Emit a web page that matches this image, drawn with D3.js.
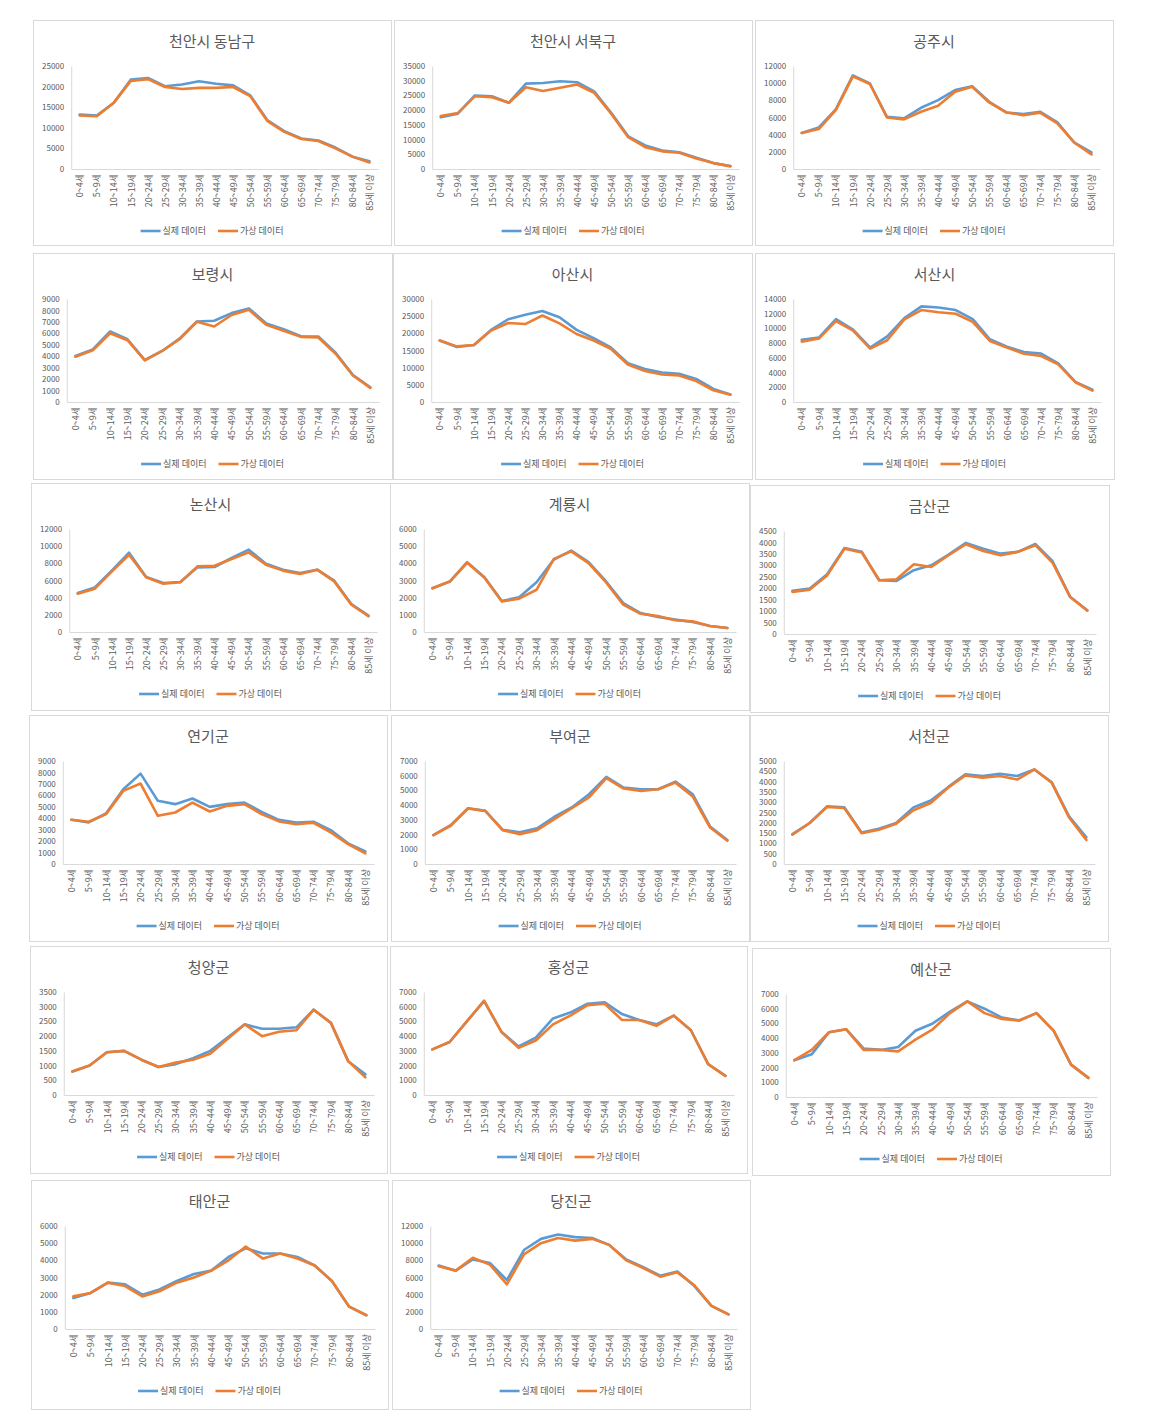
<!DOCTYPE html>
<html><head><meta charset="utf-8">
<script src="https://cdn.jsdelivr.net/npm/d3@7"></script>
<style>
body{margin:0;background:#fff;}
svg{display:block;}
text{font-family:"Noto Sans CJK KR","Noto Sans",sans-serif;}
</style>
</head><body>
<svg id="c" width="1163" height="1419"></svg>
<script>
// ---------- DATA ----------
const ageGroups = ["0~4세","5~9세","10~14세","15~19세","20~24세","25~29세","30~34세","35~39세","40~44세","45~49세","50~54세","55~59세","60~64세","65~69세","70~74세","75~79세","80~84세","85세 이상"];
const seriesNames = ["실제 데이터","가상 데이터"];
const regionNames = ["천안시 동남구","천안시 서북구","공주시","보령시","아산시","서산시","논산시","계룡시","금산군","연기군","부여군","서천군","청양군","홍성군","예산군","태안군","당진군"];
const yMaxes = [25000,35000,12000,9000,30000,14000,12000,6000,4500,9000,7000,5000,3500,7000,7000,6000,12000];
const ySteps = [5000,5000,2000,1000,5000,2000,2000,1000,500,1000,1000,500,500,1000,1000,1000,2000];

const realDongnam  = [13200,13000,16100,21700,22100,20100,20500,21300,20700,20300,17900,11900,9200,7400,6900,5200,3000,1900];
const virtDongnam  = [13000,12800,16100,21400,21800,19900,19400,19700,19700,19900,17700,11700,9000,7300,6800,5000,3000,1600];
const realSeobuk   = [17600,18800,25000,24700,22500,29000,29200,29800,29500,26400,19100,11100,8000,6300,5700,3800,2000,1000];
const virtSeobuk   = [18000,19000,24700,24400,22500,27800,26500,27600,28700,25900,18800,10800,7400,6000,5500,3600,2000,900];
const realGongju   = [4200,4850,6940,10900,9960,6080,5900,7130,8020,9190,9650,7830,6590,6400,6670,5430,3060,1940];
const virtGongju   = [4200,4650,6860,10800,9900,6000,5780,6670,7360,9000,9570,7750,6590,6280,6550,5310,3060,1700];
const realBoryeong = [4020,4600,6160,5480,3670,4460,5540,7040,7100,7770,8180,6860,6360,5750,5720,4310,2350,1290];
const virtBoryeong = [3960,4520,6010,5400,3640,4460,5480,7010,6600,7600,8060,6740,6220,5690,5630,4220,2320,1230];
const realAsan     = [17900,16000,16600,21000,24100,25400,26500,24700,21000,18600,15900,11300,9600,8600,8200,6700,3800,2200];
const virtAsan     = [17900,16200,16600,20800,23000,22700,25200,22900,19800,17900,15500,10900,9000,8000,7700,6100,3400,2100];
const realSeosan   = [8440,8760,11260,9850,7390,8930,11400,13000,12850,12500,11260,8530,7520,6790,6570,5240,2740,1690];
const virtSeosan   = [8210,8620,11000,9710,7250,8390,11230,12500,12200,12000,10900,8300,7390,6570,6250,5110,2690,1550];
const realNonsan   = [4540,5200,7180,9240,6410,5710,5830,7530,7570,8620,9590,7960,7260,6870,7260,5980,3260,1900];
const virtNonsan   = [4470,5050,7070,9000,6370,5630,5790,7650,7720,8500,9280,7840,7150,6760,7260,5900,3180,1830];
const realGyeryong = [2550,2940,4070,3190,1800,2030,2900,4220,4740,4070,2960,1680,1100,870,720,580,350,230];
const virtGyeryong = [2550,2940,4030,3160,1780,1940,2460,4260,4700,4010,2900,1590,1060,930,680,620,350,230];
const realGeumsan  = [1890,1990,2610,3760,3590,2350,2320,2790,3000,3470,3980,3730,3510,3590,3930,3180,1630,1040];
const virtGeumsan  = [1840,1940,2560,3720,3560,2350,2390,3050,2930,3440,3920,3630,3440,3590,3880,3110,1630,1020];
const realYeongi   = [3860,3630,4410,6530,7900,5520,5230,5720,4990,5230,5370,4560,3860,3630,3690,2960,1800,1100];
const virtYeongi   = [3860,3690,4360,6390,7030,4210,4500,5370,4590,5080,5230,4360,3720,3480,3600,2760,1740,930];
const realBuyeo    = [1960,2640,3790,3610,2330,2150,2420,3210,3840,4740,5920,5190,5080,5080,5600,4740,2550,1630];
const virtBuyeo    = [1960,2600,3770,3610,2300,2030,2300,3050,3790,4520,5830,5130,4970,5080,5530,4580,2480,1580];
const realSeocheon = [1450,1990,2800,2750,1530,1710,1990,2750,3080,3730,4350,4270,4380,4270,4590,3970,2310,1300];
const virtSeocheon = [1420,1990,2770,2720,1500,1660,1950,2610,2960,3700,4300,4190,4270,4100,4590,3940,2260,1170];
const realCheongyang = [800,1000,1450,1500,1200,950,1050,1250,1500,1950,2400,2250,2250,2300,2900,2450,1150,700];
const virtCheongyang = [800,1000,1450,1500,1200,950,1100,1200,1400,1900,2400,2000,2150,2200,2900,2450,1150,600];
const realHongseong  = [3100,3600,5000,6400,4300,3300,3900,5200,5600,6200,6300,5500,5100,4800,5400,4400,2100,1300];
const virtHongseong  = [3100,3600,5000,6400,4300,3200,3700,4800,5400,6100,6200,5100,5100,4700,5400,4400,2100,1300];
const realYesan      = [2500,2900,4400,4600,3300,3200,3400,4500,5000,5800,6500,6000,5400,5200,5700,4500,2200,1300];
const virtYesan      = [2500,3200,4400,4600,3200,3200,3100,3900,4600,5700,6500,5700,5300,5200,5700,4500,2200,1300];
const realTaean      = [1800,2100,2700,2600,2000,2300,2800,3200,3400,4200,4700,4400,4400,4200,3700,2800,1300,800];
const virtTaean      = [1900,2100,2700,2500,1900,2200,2700,3000,3400,4000,4800,4100,4400,4100,3700,2800,1300,800];
const realDangjin    = [7400,6800,8100,7700,5700,9200,10500,11000,10700,10600,9800,8100,7200,6200,6700,5000,2700,1700];
const virtDangjin    = [7300,6800,8300,7500,5200,8700,10000,10600,10300,10500,9800,8000,7100,6100,6600,5100,2700,1700];

const realSeries = [realDongnam,realSeobuk,realGongju,realBoryeong,realAsan,realSeosan,realNonsan,realGyeryong,realGeumsan,realYeongi,realBuyeo,realSeocheon,realCheongyang,realHongseong,realYesan,realTaean,realDangjin];
const virtSeries = [virtDongnam,virtSeobuk,virtGongju,virtBoryeong,virtAsan,virtSeosan,virtNonsan,virtGyeryong,virtGeumsan,virtYeongi,virtBuyeo,virtSeocheon,virtCheongyang,virtHongseong,virtYesan,virtTaean,virtDangjin];

// ---------- LAYOUT ----------
const boxes = [
  [33,20,358,225],[394,20,358,225],[755,20,358,225],
  [33,253,359,226],[393,253,359,226],[755,253,359,226],
  [31,483,359,227],[390,483,359,227],[750,485,359,227],
  [29,715,358,226],[391,715,358,226],[750,715,358,226],
  [30,946,357,227],[390,946,357,227],[752,948,358,227],
  [31,1180,357,229],[392,1180,358,229]
];
const colors = ["#5B9BD5","#ED7D31"];
const textColor = "#595959";
const axisColor = "#d9d9d9";

const svg = d3.select("#c");
svg.append("rect").attr("width",1163).attr("height",1419).attr("fill","#fff");

regionNames.forEach((name,i)=>{
  const [bx,by,bw,bh] = boxes[i];
  const g = svg.append("g").attr("transform",`translate(${bx},${by})`);
  g.append("rect").attr("x",0.5).attr("y",0.5).attr("width",bw).attr("height",bh)
    .attr("fill","#fff").attr("stroke",axisColor).attr("stroke-width",1);

  // title
  g.append("text").attr("x",bw/2).attr("y",27).attr("text-anchor","middle")
    .attr("font-size",15).attr("fill",textColor).text(name);

  const maxV = yMaxes[i], step = ySteps[i];
  const tickVals = d3.range(0, maxV + step/2, step);
  const tmp = g.append("text").attr("font-size",8).text(String(maxV));
  const lw = tmp.node().getComputedTextLength(); tmp.remove();
  const left = 9 + lw + 7, right = bw - 13, top = 46, bottom = 149;

  const x = d3.scalePoint().domain(ageGroups).range([left,right]).padding(0.5);
  const y = d3.scaleLinear().domain([0,maxV]).range([bottom,top]);

  const ya = g.append("g").attr("transform",`translate(${left},0)`)
    .call(d3.axisLeft(y).tickValues(tickVals).tickSize(0).tickSizeOuter(0).tickPadding(7).tickFormat(d3.format("d")));
  ya.select(".domain").attr("stroke",axisColor);
  ya.selectAll("text").attr("font-size",8).attr("fill",textColor).attr("font-family",'"Noto Sans CJK KR",sans-serif');

  const xa = g.append("g").attr("transform",`translate(0,${bottom})`)
    .call(d3.axisBottom(x).tickSize(0).tickSizeOuter(0));
  xa.select(".domain").attr("stroke",axisColor);
  xa.selectAll("text").attr("font-size",9).attr("fill",textColor)
    .attr("font-family",'"Noto Sans CJK KR",sans-serif')
    .attr("transform","rotate(-90)").attr("text-anchor","end")
    .attr("x",-5).attr("y",0).attr("dy","0.35em");

  const line = d3.line().x((d,j)=>x(ageGroups[j])).y(d=>y(d));
  [realSeries[i], virtSeries[i]].forEach((vals,k)=>{
    g.append("path").datum(vals).attr("d",line).attr("fill","none")
      .attr("stroke",colors[k]).attr("stroke-width",2.6)
      .attr("stroke-linejoin","round").attr("stroke-linecap","round");
  });

  // legend
  const lg = g.append("g");
  const ly = 211;
  let cx = 0;
  seriesNames.forEach((s,k)=>{
    const it = lg.append("g").attr("transform",`translate(${cx},0)`);
    it.append("line").attr("x1",0).attr("x2",20).attr("y1",ly).attr("y2",ly)
      .attr("stroke",colors[k]).attr("stroke-width",2.6);
    const t = it.append("text").attr("x",22).attr("y",ly).attr("dy","0.35em")
      .attr("font-size",9).attr("fill",textColor).text(s);
    cx += 22 + t.node().getComputedTextLength() + 12;
  });
  const total = cx - 12;
  lg.attr("transform",`translate(${bw/2 - total/2},0)`);
});
</script>
</body></html>
